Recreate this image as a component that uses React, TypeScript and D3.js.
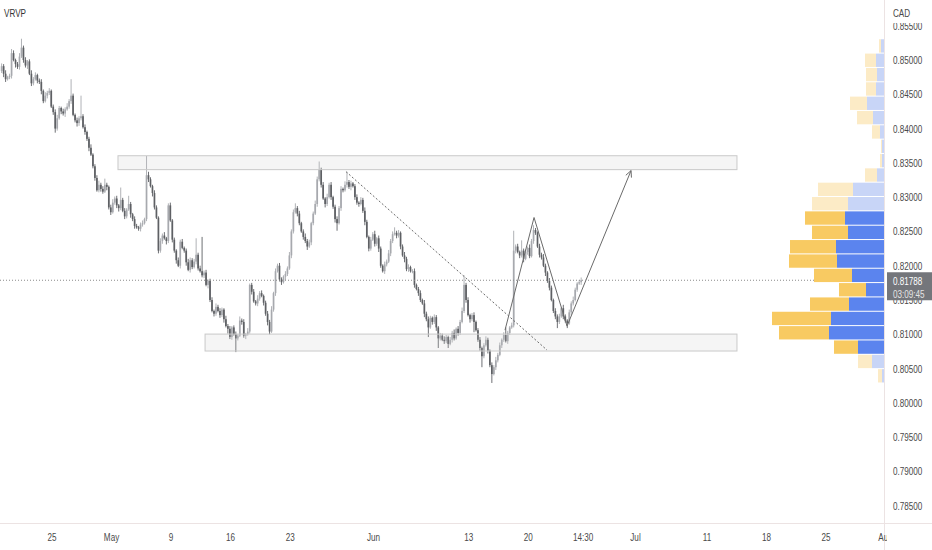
import React from "react";
import * as d3 from "d3";

// ---------- data ----------
const symbolTitle = "VRVP";
const currencyLabel = "CAD";
const lastPriceLabel = "0.81788";
const countdownLabel = "03:09:45";

const firstOpen = 8484; // pips (price * 10000)
// 4h closes, in pips
const closes = [
  8491, 8480, 8472, 8475, 8477, 8510, 8500, 8494, 8490, 8505,
  8518, 8500, 8492, 8498, 8480, 8466, 8472, 8478, 8470, 8468,
  8455, 8440, 8448, 8452, 8455, 8432, 8424, 8400, 8415, 8430,
  8425, 8422, 8428, 8432, 8440, 8448, 8420, 8412, 8408, 8415,
  8418, 8402, 8395, 8385, 8372, 8362, 8345, 8328, 8310, 8318,
  8312, 8308, 8318, 8315, 8285, 8278, 8292, 8298, 8288, 8284,
  8296, 8280, 8272, 8282, 8290, 8275, 8268, 8258, 8256, 8254,
  8260, 8262, 8268, 8332, 8326, 8316, 8306, 8285, 8270, 8222,
  8236, 8244, 8240, 8236, 8288, 8266, 8238, 8222, 8208, 8200,
  8235, 8226, 8222, 8205, 8194, 8208, 8198, 8206, 8216, 8196,
  8192, 8186, 8190, 8172, 8178, 8150, 8134, 8130, 8140, 8134,
  8128, 8136, 8122, 8112, 8108, 8096, 8110, 8100, 8094, 8098,
  8120, 8118, 8098, 8100, 8104, 8172, 8162, 8148, 8145, 8152,
  8160, 8156, 8146, 8130, 8118, 8104, 8136, 8160, 8192, 8200,
  8180, 8176, 8184, 8188, 8196, 8215, 8250, 8278, 8284, 8276,
  8262, 8250, 8242, 8236, 8228, 8234, 8262, 8276, 8290, 8326,
  8340, 8318, 8298, 8290, 8300, 8318, 8300, 8286, 8268, 8262,
  8284, 8312, 8310, 8318, 8322, 8315, 8320, 8316, 8300, 8292,
  8290, 8296, 8280, 8264, 8242, 8225, 8238, 8246, 8232, 8240,
  8225, 8200, 8192, 8202, 8206, 8218, 8236, 8246, 8248, 8244,
  8248, 8228, 8215, 8210, 8195, 8198, 8192, 8192, 8172, 8166,
  8160, 8150, 8145, 8130, 8122, 8110, 8124, 8118, 8125, 8110,
  8094, 8098, 8092, 8090, 8096, 8086, 8092, 8102, 8094, 8108,
  8102, 8118, 8134, 8172, 8150, 8128, 8122, 8128, 8118, 8106,
  8092, 8080, 8068, 8084, 8092, 8076, 8055, 8042, 8052, 8062,
  8070, 8084, 8092, 8099, 8090, 8102, 8110, 8113, 8222, 8228,
  8220, 8215, 8222, 8210, 8220, 8226, 8214, 8236, 8252, 8248,
  8228, 8216, 8212, 8200, 8190, 8178, 8168, 8150, 8134, 8126,
  8118, 8126, 8138, 8126, 8120, 8116, 8132, 8145, 8150, 8165,
  8174, 8176, 8178.8,
];
// upper wick beyond max(open, close), pips
const wickUp = [
  4, 3, 5, 2, 3, 6, 4, 2, 3, 5,
  13, 3, 4, 2, 3, 5, 3, 4, 2, 3,
  4, 2, 5, 3, 4, 2, 3, 4, 5, 3,
  2, 4, 3, 5, 3, 24, 3, 2, 4, 3,
  30, 3, 4, 2, 3, 5, 2, 3, 4, 6,
  3, 4, 9, 3, 2, 4, 5, 3, 4, 2,
  18, 3, 4, 2, 12, 3, 2, 4, 3, 2,
  3, 4, 2, 28, 5, 3, 2, 4, 3, 2,
  4, 3, 5, 2, 3, 4, 2, 3, 2, 4,
  3, 4, 2, 3, 5, 4, 3, 4, 24, 3,
  4, 50, 3, 4, 2, 3, 4, 2, 5, 3,
  4, 3, 2, 5, 3, 4, 2, 3, 4, 2,
  6, 3, 4, 2, 5, 2, 3, 4, 2, 5,
  3, 4, 2, 3, 4, 3, 5, 2, 4, 3,
  4, 3, 2, 4, 3, 5, 3, 4, 7, 3,
  4, 2, 3, 5, 3, 4, 2, 3, 5, 4,
  12, 3, 4, 2, 5, 3, 4, 2, 3, 4,
  3, 4, 2, 5, 15, 3, 4, 2, 3, 4,
  2, 4, 3, 5, 3, 2, 4, 3, 5, 2,
  4, 3, 2, 4, 3, 5, 3, 4, 8, 3,
  4, 2, 3, 5, 3, 4, 2, 3, 4, 2,
  3, 4, 2, 5, 3, 4, 3, 2, 4, 3,
  2, 4, 3, 5, 3, 2, 4, 3, 5, 2,
  4, 3, 5, 14, 3, 4, 2, 3, 4, 2,
  3, 4, 2, 3, 5, 3, 2, 4, 3, 5,
  3, 4, 2, 4, 11, 3, 2, 4, 29, 3,
  4, 2, 15, 3, 4, 2, 5, 3, 7, 3,
  2, 4, 3, 5, 3, 2, 4, 3, 2, 4,
  3, 4, 2, 5, 3, 2, 4, 3, 5, 3,
  2, 3, 4,
];
// lower wick below min(open, close), pips
const wickDown = [
  3, 5, 4, 2, 3, 4, 2, 5, 3, 4,
  2, 4, 3, 5, 2, 4, 3, 2, 4, 3,
  5, 3, 2, 4, 3, 2, 4, 6, 3, 2,
  4, 3, 5, 2, 3, 4, 2, 3, 5, 4,
  3, 2, 4, 3, 5, 2, 3, 4, 2, 3,
  4, 3, 2, 5, 3, 4, 2, 3, 4, 5,
  3, 2, 4, 3, 2, 5, 3, 4, 2, 3,
  4, 3, 2, 3, 4, 2, 5, 3, 2, 4,
  3, 4, 2, 5, 3, 2, 4, 3, 5, 2,
  4, 2, 3, 5, 2, 4, 3, 2, 4, 3,
  2, 3, 4, 2, 5, 3, 2, 4, 3, 2,
  4, 3, 5, 2, 7, 3, 4, 2, 20, 3,
  2, 4, 3, 5, 2, 3, 4, 2, 3, 4,
  3, 2, 4, 3, 5, 4, 2, 3, 4, 2,
  3, 4, 2, 5, 3, 2, 4, 3, 2, 4,
  3, 2, 4, 3, 5, 2, 4, 3, 2, 4,
  3, 4, 2, 5, 3, 2, 4, 3, 5, 11,
  2, 4, 3, 2, 4, 3, 5, 2, 4, 3,
  4, 2, 3, 5, 2, 4, 3, 2, 4, 3,
  5, 3, 2, 4, 3, 2, 4, 3, 2, 4,
  3, 4, 2, 5, 3, 4, 2, 3, 4, 2,
  4, 3, 2, 5, 3, 14, 2, 4, 3, 5,
  14, 3, 2, 4, 3, 6, 2, 4, 3, 2,
  4, 3, 2, 3, 4, 2, 5, 3, 15, 2,
  3, 4, 16, 3, 2, 4, 3, 13, 2, 4,
  3, 2, 4, 3, 2, 4, 3, 2, 3, 4,
  2, 4, 3, 5, 2, 4, 3, 2, 4, 3,
  2, 4, 3, 2, 5, 3, 4, 2, 3, 4,
  9, 3, 2, 4, 3, 7, 2, 4, 3, 2,
  3, 2, 4,
];
const lastBarTime = "2022-06-24 10:30";
const barsPerDay = 6;

// visible range
const visibleFrom = "2022-04-18 15:12";
const visibleTo = "2022-07-29 20:50";
const visiblePriceLow = 0.78248;
const visiblePriceHigh = 0.85875;

// price axis ticks
const priceTicks = [0.785, 0.79, 0.795, 0.8, 0.805, 0.81, 0.815, 0.82, 0.825, 0.83, 0.835, 0.84, 0.845, 0.85, 0.855];

// time axis ticks
const timeTickLabels = ["25", "May", "9", "16", "23", "Jun", "13", "20", "14:30", "Jul", "11", "18", "25", "Aug"];
const timeTickDates = [
  "2022-04-25 00:00", "2022-05-02 00:00", "2022-05-09 00:00", "2022-05-16 00:00", "2022-05-23 00:00",
  "2022-06-01 00:00", "2022-06-13 00:00", "2022-06-20 00:00", "2022-06-24 14:30", "2022-07-01 00:00",
  "2022-07-11 00:00", "2022-07-18 00:00", "2022-07-25 00:00", "2022-08-01 00:00",
];

// visible-range volume profile (24 rows, top to bottom)
const profileDownVol = [2, 11, 11, 10, 17, 16, 8, 1, 2, 12, 35, 36, 40, 36, 46, 48, 38, 27, 39, 59, 50, 24, 14, 4];
const profileUpVol = [3, 8, 7, 8, 17, 11, 4, 2, 2, 7, 31, 36, 39, 36, 48, 47, 32, 18, 35, 53, 55, 26, 12, 2];
const valueAreaFirstRow = 12;
const valueAreaLastRow = 21;

// drawings
const zoneTimes = [["2022-05-02 13:00", "2022-07-13 12:30"], ["2022-05-11 20:30", "2022-07-13 12:30"]];
const zonePrices = [[0.83604, 0.83401], [0.81003, 0.80756]];
const trendTimes = ["2022-05-27 16:30", "2022-06-21 13:40"];
const trendPrices = [0.83372, 0.8077];
const pathTimes = ["2022-06-16 01:00", "2022-06-20 11:30", "2022-06-23 06:00", "2022-06-30 15:00"];
const pathPrices = [0.81061, 0.82703, 0.81119, 0.83387];

// ---------- layout ----------
const W = 932;
const H = 550;
const PANE_R = 884;
const PANE_B = 523;
const TIME_CLIP_R = 887;
const PROFILE_MAX_W = 112;
const FONT = "'Liberation Sans', Arial, sans-serif";
const SX = 0.74; // horizontal squeeze of axis text

const parse = d3.timeParse("%Y-%m-%d %H:%M");
const ORIGIN = parse("2022-04-18 00:00") as Date;
function tradingT(s: string): number {
  const d = parse(s) as Date;
  const day = d3.timeDay.floor(d);
  const n = d3.timeDay.range(ORIGIN, day).filter((x) => x.getDay() % 6 !== 0).length;
  return n + (d.getTime() - day.getTime()) / 864e5;
}

function Label(props: { x: number; y: number; anchor?: string; fill?: string; size?: number; children: React.ReactNode }) {
  const { x, y, anchor = "start", fill = "#4a4a4a", size = 11, children } = props;
  return (
    <text transform={`translate(${x},${y}) scale(${SX},1)`} textAnchor={anchor} fontSize={size} fill={fill}>
      {children}
    </text>
  );
}

export default function App() {
  const x = d3.scaleLinear().domain([tradingT(visibleFrom), tradingT(visibleTo)]).range([0, PANE_R]);
  const y = d3.scaleLinear().domain([visiblePriceLow, visiblePriceHigh]).range([PANE_B, 0]);

  const N = closes.length;
  const tLast = tradingT(lastBarTime);
  const candles = closes.map((c, i) => {
    const o = i === 0 ? firstOpen : closes[i - 1];
    return {
      t: tLast - (N - 1 - i) / barsPerDay,
      o: o / 1e4,
      c: c / 1e4,
      h: (Math.max(o, c) + wickUp[i]) / 1e4,
      l: (Math.min(o, c) - wickDown[i]) / 1e4,
    };
  });
  const lastClose = candles[N - 1].c;
  const hi = d3.max(candles, (d) => d.h) as number;
  const lo = d3.min(candles, (d) => d.l) as number;
  const rows = profileUpVol.length;
  const rowStep = (hi - lo) / rows;
  const totals = profileUpVol.map((u, i) => u + profileDownVol[i]);
  const vx = d3.scaleLinear().domain([0, d3.max(totals) as number]).range([0, PROFILE_MAX_W]);

  const line = d3.line<[number, number]>().x((d) => d[0]).y((d) => d[1]);
  const pathPts: [number, number][] = pathTimes.map((t, i) => [x(tradingT(t)), y(pathPrices[i])]);
  const pe = pathPts[pathPts.length - 1];
  const pb = pathPts[pathPts.length - 2];
  const ang = Math.atan2(pe[1] - pb[1], pe[0] - pb[0]);
  const aL = 7;
  const arrow: [number, number][] = [
    [pe[0] - aL * Math.cos(ang - 0.45), pe[1] - aL * Math.sin(ang - 0.45)],
    pe,
    [pe[0] - aL * Math.cos(ang + 0.45), pe[1] - aL * Math.sin(ang + 0.45)],
  ];

  const yLast = y(lastClose);

  return (
    <div style={{ position: "fixed", left: 0, top: 0, width: W, height: H, background: "#fff" }}>
      <svg width={W} height={H} style={{ display: "block", fontFamily: FONT }}>
        <defs>
          <clipPath id="pane">
            <rect x={0} y={0} width={PANE_R} height={PANE_B} />
          </clipPath>
          <clipPath id="timeAxis">
            <rect x={0} y={PANE_B} width={TIME_CLIP_R} height={H - PANE_B} />
          </clipPath>
        </defs>
        <rect x={0} y={0} width={W} height={H} fill="#ffffff" />

        <g clipPath="url(#pane)">
          {/* candles */}
          {candles.map((d, i) => {
            const up = d.c >= d.o;
            const cx = x(d.t);
            const col = up ? "#a7a9ae" : "#5e6064";
            const yTop = y(Math.max(d.o, d.c));
            const yBot = y(Math.min(d.o, d.c));
            return (
              <g key={i}>
                <line x1={cx} x2={cx} y1={y(d.h)} y2={y(d.l)} stroke={col} strokeWidth={0.9} />
                <rect x={cx - 0.85} y={yTop} width={1.7} height={Math.max(0.9, yBot - yTop)} fill={col} />
              </g>
            );
          })}

          {/* zones */}
          {zoneTimes.map((zt, i) => {
            const x0 = x(tradingT(zt[0]));
            const x1 = x(tradingT(zt[1]));
            const y0 = y(zonePrices[i][0]);
            const y1 = y(zonePrices[i][1]);
            return (
              <rect key={i} x={x0} y={y0} width={x1 - x0} height={y1 - y0}
                fill="rgba(200,200,200,0.18)" stroke="#c9c9c9" strokeWidth={1} />
            );
          })}

          {/* trend line */}
          <line x1={x(tradingT(trendTimes[0]))} y1={y(trendPrices[0])}
            x2={x(tradingT(trendTimes[1]))} y2={y(trendPrices[1])}
            stroke="#6a6a6a" strokeWidth={1} strokeDasharray="2 2" />

          {/* projection path */}
          <path d={line(pathPts) as string} fill="none" stroke="#6a6a6a" strokeWidth={1} />
          <path d={line(arrow) as string} fill="none" stroke="#6a6a6a" strokeWidth={1} />

          {/* last price line */}
          <line x1={0} x2={PANE_R} y1={yLast} y2={yLast} stroke="#8a8a8a" strokeWidth={1} strokeDasharray="1 2" />

          {/* volume profile */}
          {profileUpVol.map((u, i) => {
            const dn = profileDownVol[i];
            const inVA = i >= valueAreaFirstRow && i <= valueAreaLastRow;
            const yt = y(hi - i * rowStep) + 0.5;
            const yb = y(hi - (i + 1) * rowStep) - 0.5;
            const wBlue = vx(u);
            const wYel = vx(dn);
            return (
              <g key={i}>
                <rect x={PANE_R - wBlue} y={yt} width={wBlue} height={yb - yt}
                  fill={inVA ? "#5b84ee" : "#c8d5f7"} />
                <rect x={PANE_R - wBlue - wYel} y={yt} width={wYel} height={yb - yt}
                  fill={inVA ? "#f8ca62" : "#fcebc6"} />
              </g>
            );
          })}
        </g>

        {/* axes borders */}
        <line x1={0} x2={W} y1={PANE_B + 0.5} y2={PANE_B + 0.5} stroke="#ece3e3" strokeWidth={1} />
        <line x1={PANE_R + 0.5} x2={PANE_R + 0.5} y1={0} y2={H} stroke="#ece3e3" strokeWidth={1} />

        {/* price axis labels */}
        {priceTicks.map((p, i) => (
          <Label key={i} x={893} y={y(p) + 4}>{p.toFixed(5)}</Label>
        ))}
        <rect x={PANE_R + 1} y={0} width={W - PANE_R - 1} height={23} fill="#fff" />
        <Label x={893} y={17}>{currencyLabel}</Label>

        {/* last price box */}
        <rect x={PANE_R + 3} y={yLast - 8} width={W - PANE_R - 3} height={28} fill="#74767b" />
        <Label x={893} y={yLast + 5} fill="#ffffff">{lastPriceLabel}</Label>
        <Label x={893} y={yLast + 18} fill="#e4e4e4">{countdownLabel}</Label>

        {/* time axis labels */}
        <g clipPath="url(#timeAxis)">
          {timeTickLabels.map((lab, i) => (
            <Label key={i} x={x(tradingT(timeTickDates[i]))} y={541} anchor="middle">{lab}</Label>
          ))}
        </g>

        <Label x={4} y={17} fill="#333">{symbolTitle}</Label>
      </svg>
    </div>
  );
}
